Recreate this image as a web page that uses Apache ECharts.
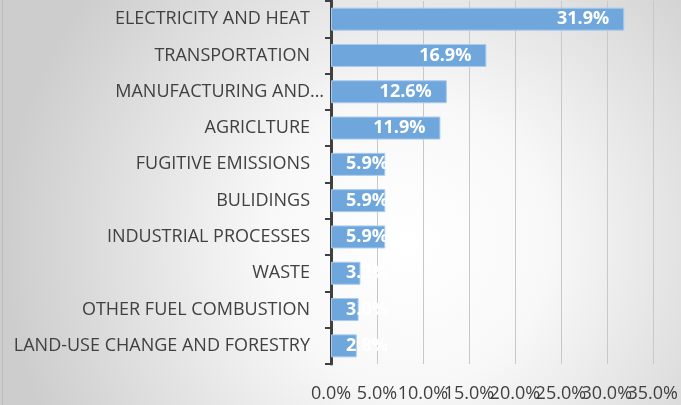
<!DOCTYPE html>
<html><head><meta charset="utf-8">
<script src="https://cdn.jsdelivr.net/npm/echarts@6/dist/echarts.min.js"></script>
<style>html,body{margin:0;padding:0;}#c{width:681px;height:405px;}</style>
</head><body><div id="c"></div>
<script>
var categories = ["ELECTRICITY AND HEAT","TRANSPORTATION","MANUFACTURING AND…","AGRICLTURE","FUGITIVE EMISSIONS","BULIDINGS","INDUSTRIAL PROCESSES","WASTE","OTHER FUEL COMBUSTION","LAND-USE CHANGE AND FORESTRY"];
var values = [31.9,16.9,12.6,11.9,5.9,5.9,5.9,3.2,3.0,2.8];
var tickMin = 0, tickMax = 35, tickStep = 5;

var font = "Open Sans";
var pct = function(v){return v.toFixed(1)+'%';};
var baseX = {type:'value', min:tickMin, max:tickMax, interval:tickStep, position:'bottom',
    axisLine:{show:false}, axisTick:{show:false}};
var chart = echarts.init(document.getElementById('c'));
chart.setOption({
  backgroundColor: {type:'radial', x:0.6, y:0.6, r:1, colorStops:[{offset:0,color:'#ffffff'},{offset:0.35,color:'#f8f8f8'},{offset:1,color:'#cdcdcd'}]},
  animation:false,
  grid:{left:331, right:27, top:1, bottom:41},
  xAxis:[
    Object.assign({}, baseX, {
      splitLine:{lineStyle:{color:'#c8c8c8', width:1}},
      axisLabel:{color:'#404040', fontFamily:font, fontSize:18, margin:21,
        showMinLabel:true, showMaxLabel:false, hideOverlap:false, formatter:pct}}),
    Object.assign({}, baseX, {
      splitLine:{show:false},
      axisLabel:{color:'#404040', fontFamily:font, fontSize:18, margin:21,
        showMinLabel:false, showMaxLabel:true, hideOverlap:false,
        formatter:function(v){return v===tickMax ? pct(v) : '';}}})
  ],
  yAxis:{type:'category', inverse:true,
    data: categories.map(function(c,i){ return i===2 ? {value:c, textStyle:{padding:[0,-14,0,0]}} : c; }),
    axisLine:{lineStyle:{color:'#404040', width:3}},
    axisTick:{show:true, length:6, lineStyle:{color:'#404040', width:2}},
    axisLabel:{color:'#404040', fontFamily:font, fontSize:18, margin:21}},
  series:[{type:'bar', barWidth:23, xAxisIndex:0,
    itemStyle:{color:'#6fa6db', borderColor:'#a8cbee', borderWidth:1},
    data: values.map(function(v){ return {value:v, label:{position: v<8 ? 'insideLeft':'insideRight'}}; }),
    label:{show:true, distance:15, color:'#ffffff', fontWeight:'bold', fontFamily:font, fontSize:18,
      formatter:function(p){return p.value.toFixed(1)+'%';}}
  }],
  graphic:[{type:'rect', left:2, top:0, shape:{width:1, height:405}, style:{fill:'#bdbdbd'}, silent:true}]
});
</script></body></html>
